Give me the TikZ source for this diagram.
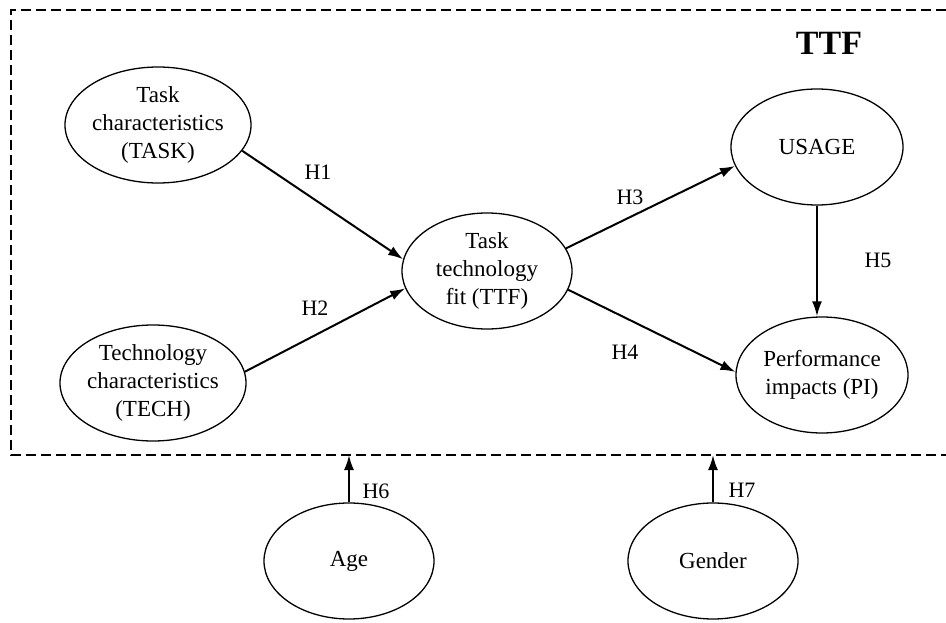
\documentclass[tikz,border=0pt]{standalone}
\usepackage{fontspec}
\setmainfont{Liberation Serif}
\usetikzlibrary{shapes.geometric,arrows.meta}
\begin{document}
\begin{tikzpicture}[x=1pt,y=-1pt,
  ell/.style={draw,ellipse,line width=1.3pt,minimum width=172pt,minimum height=116pt,inner sep=0pt,align=center,font=\fontsize{23}{28}\selectfont},
  arr/.style={line width=2pt,-{Latex[length=15pt,width=10pt]}},
  lab/.style={font=\fontsize{22}{26}\selectfont},
  box/.style={line width=1.6pt,dash pattern=on 10pt off 5pt}]
\useasboundingbox (0,0) rectangle (946,623);
\draw[box] (946,10) -- (11,10) -- (11,455) -- (946,455);
\node[font=\fontsize{34}{40}\selectfont\bfseries] (title) at (829,43) {TTF};
\node[ell] (task) at (158,125) {Task\\characteristics\\(TASK)};
\node[ell] (tech) at (153,383) {Technology\\characteristics\\(TECH)};
\node[ell,minimum width=170pt] (ttf) at (487,271) {Task\\technology\\fit (TTF)};
\node[ell] (usage) at (817,147) {USAGE};
\node[ell] (pi) at (822,375) {Performance\\impacts (PI)};
\node[ell,minimum width=170pt] (age) at (349,561) {Age};
\node[ell,minimum width=170pt] (gender) at (713,561) {Gender};
\coordinate (b6) at (349,455);
\coordinate (b7) at (713,455);
\draw[arr] (task.-17) -- (ttf.172);
\draw[arr] (tech.7) -- (ttf.192);
\draw[arr] (ttf.16) -- (usage.193);
\draw[arr] (ttf.-13) -- (pi.178);
\draw[arr] (usage.south) -- (usage.south |- pi.north);
\draw[arr] (age.north) -- (b6);
\draw[arr] (gender.north) -- (b7);
\node[lab] (h1) at (318,172) {H1};
\node[lab] (h2) at (315,308) {H2};
\node[lab] (h3) at (630,197) {H3};
\node[lab] (h4) at (625,352) {H4};
\node[lab] (h5) at (878,260) {H5};
\node[lab] (h6) at (376,491) {H6};
\node[lab] (h7) at (742,490) {H7};
\end{tikzpicture}
\end{document}
